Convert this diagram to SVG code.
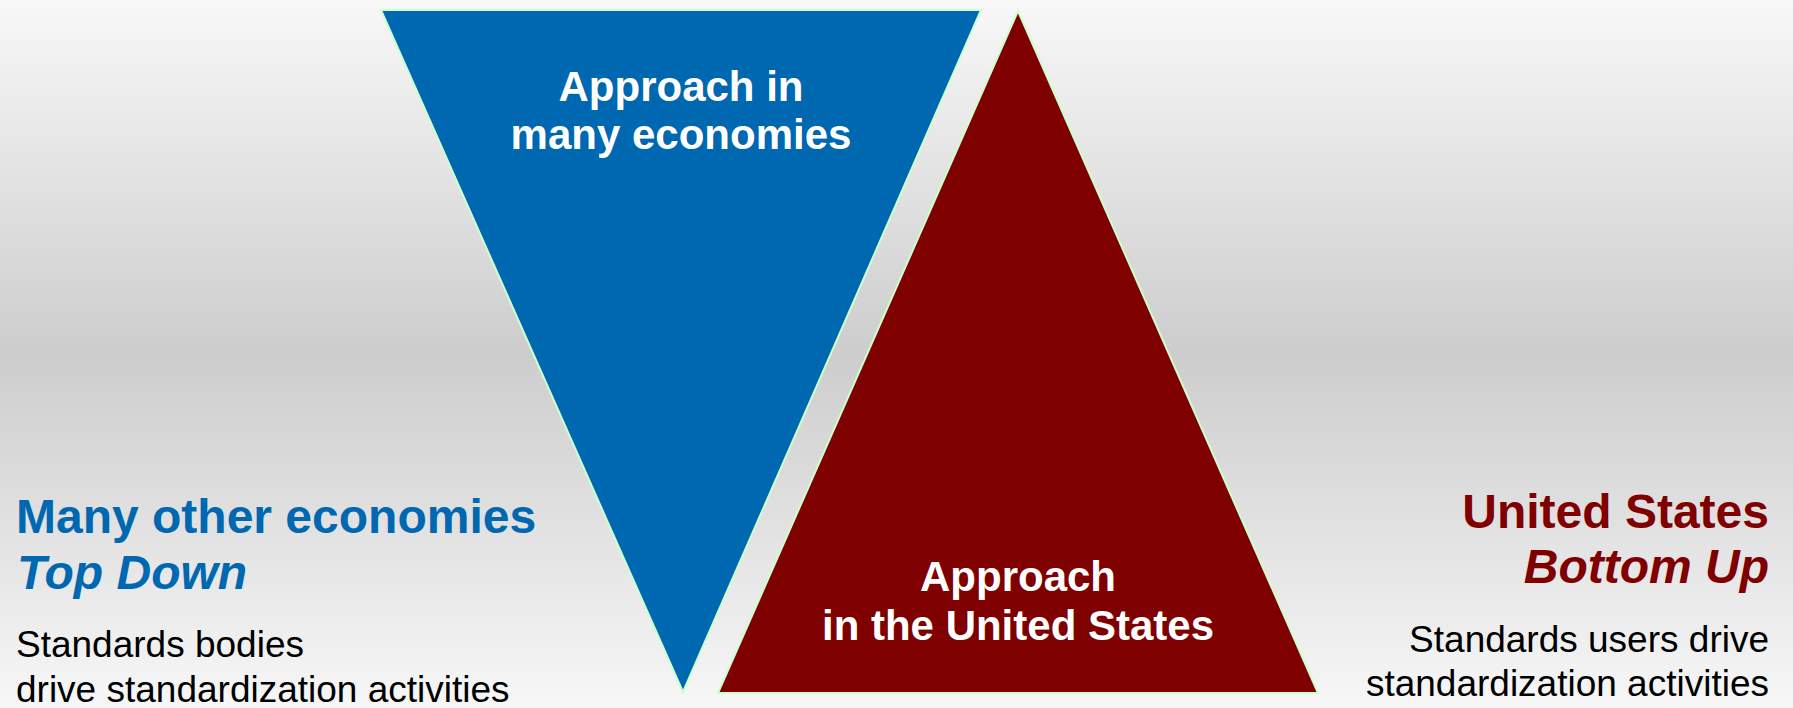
<svg xmlns="http://www.w3.org/2000/svg" width="1793" height="708" viewBox="0 0 1793 708">
<defs>
<linearGradient id="bg" x1="0" y1="0" x2="0" y2="1">
<stop offset="0" stop-color="#f8f8f8"/>
<stop offset="0.5" stop-color="#cdcdcd"/>
<stop offset="1" stop-color="#f7f7f7"/>
</linearGradient>
<style>
.tri{stroke:#ccffcc;stroke-width:2;stroke-linejoin:miter}
.t{font-family:"Liberation Sans",Arial,sans-serif}
.w{fill:#ffffff;font-weight:bold;font-size:42px;text-anchor:middle}
.h{font-weight:bold;font-size:48px}
.b{fill:#000000;font-size:37px}
</style>
</defs>
<rect x="0" y="0" width="1793" height="708" fill="url(#bg)"/>
<g id="blue-triangle">
<polygon class="tri" points="381,10 981,10 683,692" fill="#0067b1"/>
<text class="t w" x="681" y="101">Approach in</text>
<text class="t w" x="681" y="149">many economies</text>
</g>
<g id="red-triangle">
<polygon class="tri" points="1018,11 1318,693 718,693" fill="#7f0000"/>
<text class="t w" x="1018" y="591">Approach</text>
<text class="t w" x="1018" y="640">in the United States</text>
</g>
<g id="left-label">
<text class="t h" x="16" y="533" fill="#0067b1">Many other economies</text>
<text class="t h" x="17" y="589" fill="#0067b1" font-style="italic">Top Down</text>
<text class="t b" x="16" y="657">Standards bodies</text>
<text class="t b" x="16" y="702">drive standardization activities</text>
</g>
<g id="right-label">
<text class="t h" x="1769" y="528" fill="#800000" text-anchor="end">United States</text>
<text class="t h" x="1769" y="583" fill="#800000" font-style="italic" text-anchor="end">Bottom Up</text>
<text class="t b" x="1769" y="652" text-anchor="end">Standards users drive</text>
<text class="t b" x="1769" y="696" text-anchor="end">standardization activities</text>
</g>
<g id="connectors"></g>
</svg>
